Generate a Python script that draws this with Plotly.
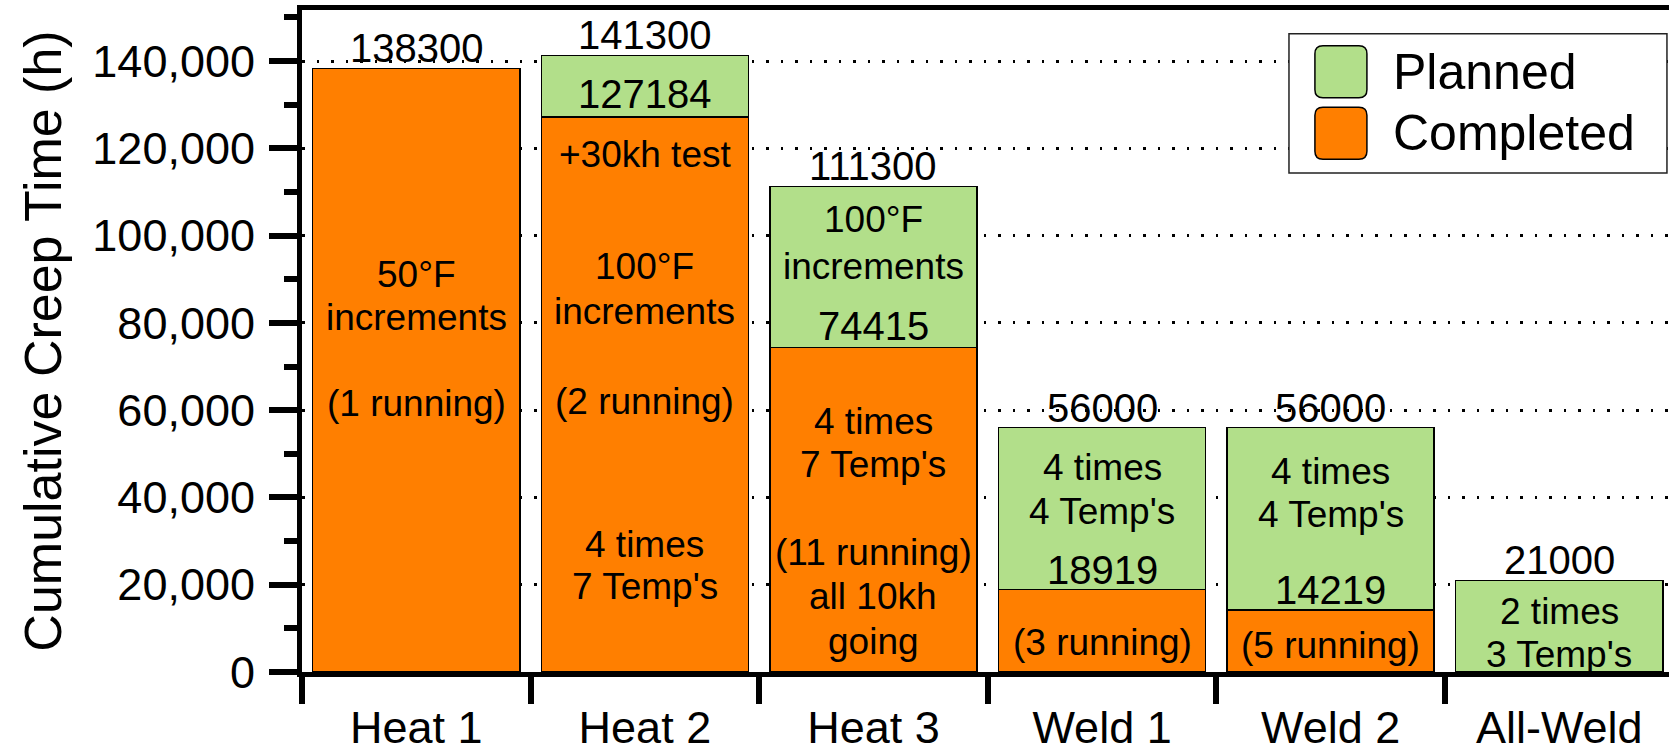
import plotly.graph_objects as go

# ---- data ----
categories = ["Heat 1", "Heat 2", "Heat 3", "Weld 1", "Weld 2", "All-Weld"]
completed = [138300, 127184, 74415, 18919, 14219, 0]
planned_total = [138300, 141300, 111300, 56000, 56000, 21000]

# text written inside the bars: (category, text, y position in data units)
notes = [
    ("Heat 1", "50°F", 91100),
    ("Heat 1", "increments", 81200),
    ("Heat 1", "(1 running)", 61500),
    ("Heat 2", "127184", 132400),
    ("Heat 2", "+30kh test", 118650),
    ("Heat 2", "100°F", 92950),
    ("Heat 2", "increments", 82600),
    ("Heat 2", "(2 running)", 61970),
    ("Heat 2", "4 times", 29150),
    ("Heat 2", "7 Temp's", 19500),
    ("Heat 3", "100°F", 103700),
    ("Heat 3", "increments", 92950),
    ("Heat 3", "74415", 79200),
    ("Heat 3", "4 times", 57450),
    ("Heat 3", "7 Temp's", 47500),
    ("Heat 3", "(11 running)", 27300),
    ("Heat 3", "all 10kh", 17280),
    ("Heat 3", "going", 6900),
    ("Weld 1", "4 times", 46750),
    ("Weld 1", "4 Temp's", 36800),
    ("Weld 1", "18919", 23400),
    ("Weld 1", "(3 running)", 6650),
    ("Weld 2", "4 times", 45970),
    ("Weld 2", "4 Temp's", 36030),
    ("Weld 2", "14219", 18820),
    ("Weld 2", "(5 running)", 5970),
    ("All-Weld", "2 times", 13770),
    ("All-Weld", "3 Temp's", 3900),
]

FONT = "Liberation Sans, Arial, Helvetica, sans-serif"
ORANGE = "#ff7f00"
GREEN = "#b2df8a"

planned_part = [t - c if t - c > 0 else None for t, c in zip(planned_total, completed)]
completed_plot = [c if c > 0 else None for c in completed]

fig = go.Figure()
fig.add_bar(x=categories, y=completed_plot, name="Completed",
            marker=dict(color=ORANGE, line=dict(color="black", width=1.5)),
            hoverinfo="skip")
fig.add_bar(x=categories, y=planned_part, name="Planned",
            marker=dict(color=GREEN, line=dict(color="black", width=1.5)),
            hoverinfo="skip")

annotations = []
for cat, tot in zip(categories, planned_total):
    annotations.append(dict(x=cat, y=tot, xref="x", yref="y", text=str(tot),
                            showarrow=False, yanchor="bottom", yshift=-4,
                            font=dict(family=FONT, size=40, color="black")))
for cat, txt, yv in notes:
    size = 40 if txt.isdigit() else 37
    annotations.append(dict(x=cat, y=yv, xref="x", yref="y", text=txt,
                            showarrow=False, yanchor="middle",
                            font=dict(family=FONT, size=size, color="black")))

# manual legend (large rounded swatches), placed in plot-fraction coordinates
h, r = 26, 8
rr = (f"M {-h+r},{-h} L {h-r},{-h} Q {h},{-h} {h},{-h+r} L {h},{h-r} Q {h},{h} {h-r},{h} "
      f"L {-h+r},{h} Q {-h},{h} {-h},{h-r} L {-h},{-h+r} Q {-h},{-h} {-h+r},{-h} Z")
shapes = [
    dict(type="rect", xref="paper", yref="paper", x0=0.722, x1=0.9985, y0=0.7536, y1=0.964,
         line=dict(color="#222", width=1.5), fillcolor="white", layer="above"),
    dict(type="path", xref="paper", yref="paper", xsizemode="pixel", ysizemode="pixel",
         xanchor=0.760, yanchor=0.9068, path=rr, fillcolor=GREEN,
         line=dict(color="black", width=1.5), layer="above"),
    dict(type="path", xref="paper", yref="paper", xsizemode="pixel", ysizemode="pixel",
         xanchor=0.760, yanchor=0.8137, path=rr, fillcolor=ORANGE,
         line=dict(color="black", width=1.5), layer="above"),
]
for name, yy in (("Planned", 0.9068), ("Completed", 0.8137)):
    annotations.append(dict(x=0.797, y=yy, xref="paper", yref="paper", text=name,
                            showarrow=False, xanchor="left", yanchor="middle",
                            font=dict(family=FONT, size=50, color="black")))

fig.update_layout(
    template="none",
    width=1669, height=754,
    margin=dict(l=302, r=0, t=10, b=82, pad=0),
    paper_bgcolor="white", plot_bgcolor="white",
    barmode="stack", bargap=0.094,
    showlegend=False,
    font=dict(family=FONT, color="black"),
    annotations=annotations,
    shapes=shapes,
    xaxis=dict(type="category", range=[-0.5, 5.48], automargin=False,
               showline=True, linewidth=5,
               linecolor="black", mirror=True, ticks="outside", tickson="boundaries",
               ticklen=27, tickwidth=6, tickcolor="black", showgrid=False,
               ticklabelstandoff=12,
               tickfont=dict(family=FONT, size=45, color="black")),
    yaxis=dict(range=[0, 151700], automargin=False, showline=True, linewidth=5,
               linecolor="black",
               ticks="outside", ticklen=28, tickwidth=6, tickcolor="black",
               dtick=20000, tickformat=",", zeroline=False,
               showgrid=True, gridcolor="black", gridwidth=2.5, griddash="2.5px,12px",
               minor=dict(dtick=10000, ticks="outside", ticklen=13, tickwidth=6,
                          tickcolor="black", showgrid=False),
               ticklabelstandoff=5,
               tickfont=dict(family=FONT, size=45, color="black"),
               title=dict(text="Cumulative Creep Time (h)", standoff=16,
                          font=dict(family=FONT, size=52, color="black"))),
)

# place the figure flush with the page corner (no default body margin), no modebar
fig.write_html("out.html", config={"displayModeBar": False},
               post_script="document.body.style.margin='0';")
